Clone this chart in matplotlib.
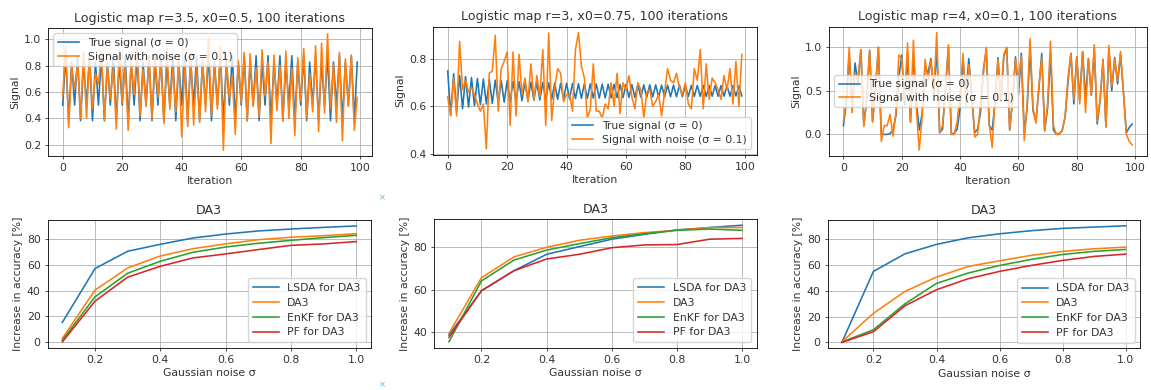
import matplotlib
matplotlib.use("Agg")
import matplotlib.pyplot as plt
from matplotlib.ticker import MultipleLocator

# ---- top row : logistic map signals ----
iterations = list(range(100))

true_r35 = [0.500, 0.875, 0.383, 0.827, 0.501, 0.875, 0.383, 0.827, 0.501, 0.875,
            0.383, 0.827, 0.501, 0.875, 0.383, 0.827, 0.501, 0.875, 0.383, 0.827,
            0.501, 0.875, 0.383, 0.827, 0.501, 0.875, 0.383, 0.827, 0.501, 0.875,
            0.383, 0.827, 0.501, 0.875, 0.383, 0.827, 0.501, 0.875, 0.383, 0.827,
            0.501, 0.875, 0.383, 0.827, 0.501, 0.875, 0.383, 0.827, 0.501, 0.875,
            0.383, 0.827, 0.501, 0.875, 0.383, 0.827, 0.501, 0.875, 0.383, 0.827,
            0.501, 0.875, 0.383, 0.827, 0.501, 0.875, 0.383, 0.827, 0.501, 0.875,
            0.383, 0.827, 0.501, 0.875, 0.383, 0.827, 0.501, 0.875, 0.383, 0.827,
            0.501, 0.875, 0.383, 0.827, 0.501, 0.875, 0.383, 0.827, 0.501, 0.875,
            0.383, 0.827, 0.501, 0.875, 0.383, 0.827, 0.501, 0.875, 0.383, 0.827]
noisy_r35 = [0.57, 0.95, 0.33, 0.80, 0.62, 0.82, 0.40, 0.90, 0.40, 0.88,
             0.47, 0.74, 0.66, 0.90, 0.39, 0.80, 0.55, 0.79, 0.32, 0.92,
             0.52, 0.80, 0.31, 0.84, 0.58, 0.94, 0.42, 0.77, 0.49, 0.86,
             0.40, 0.89, 0.56, 0.82, 0.36, 0.93, 0.47, 0.78, 0.45, 0.86,
             0.26, 0.81, 0.34, 0.90, 0.35, 0.78, 0.37, 0.85, 0.45, 1.01,
             0.42, 0.80, 0.47, 0.95, 0.16, 0.86, 0.55, 0.72, 0.28, 0.84,
             0.52, 0.90, 0.38, 0.89, 0.49, 0.78, 0.41, 0.92, 0.57, 0.83,
             0.21, 0.88, 0.46, 0.80, 0.38, 0.91, 0.40, 0.78, 0.27, 0.86,
             0.53, 0.93, 0.40, 0.74, 0.45, 0.95, 0.30, 0.97, 0.44, 1.04,
             0.48, 0.81, 0.37, 0.90, 0.23, 0.85, 0.49, 0.88, 0.31, 0.56]

true_r3 = [0.750, 0.563, 0.738, 0.580, 0.731, 0.590, 0.726, 0.597, 0.722, 0.603,
           0.718, 0.607, 0.716, 0.610, 0.713, 0.613, 0.711, 0.616, 0.709, 0.618,
           0.708, 0.620, 0.706, 0.622, 0.705, 0.624, 0.704, 0.625, 0.703, 0.626,
           0.702, 0.627, 0.701, 0.629, 0.700, 0.630, 0.699, 0.630, 0.698, 0.631,
           0.698, 0.632, 0.697, 0.633, 0.696, 0.634, 0.696, 0.634, 0.695, 0.635,
           0.695, 0.635, 0.694, 0.636, 0.694, 0.636, 0.693, 0.637, 0.693, 0.637,
           0.692, 0.638, 0.692, 0.638, 0.692, 0.639, 0.691, 0.639, 0.691, 0.640,
           0.691, 0.640, 0.690, 0.640, 0.690, 0.641, 0.690, 0.641, 0.690, 0.641,
           0.689, 0.642, 0.689, 0.642, 0.689, 0.642, 0.689, 0.642, 0.688, 0.643,
           0.688, 0.643, 0.688, 0.643, 0.688, 0.643, 0.688, 0.644, 0.687, 0.644]
noisy_r3 = [0.64, 0.56, 0.72, 0.56, 0.875, 0.67, 0.71, 0.66, 0.68, 0.65,
            0.61, 0.58, 0.61, 0.42, 0.74, 0.75, 0.90, 0.58, 0.76, 0.79,
            0.83, 0.52, 0.83, 0.56, 0.82, 0.65, 0.72, 0.62, 0.78, 0.63,
            0.73, 0.64, 0.84, 0.52, 0.91, 0.54, 0.68, 0.76, 0.74, 0.62,
            0.65, 0.65, 0.58, 0.84, 0.913, 0.77, 0.72, 0.55, 0.59, 0.78,
            0.58, 0.58, 0.55, 0.61, 0.59, 0.70, 0.60, 0.74, 0.57, 0.70,
            0.67, 0.73, 0.64, 0.59, 0.70, 0.67, 0.55, 0.66, 0.67, 0.60,
            0.62, 0.65, 0.56, 0.66, 0.76, 0.71, 0.70, 0.74, 0.68, 0.65,
            0.70, 0.61, 0.59, 0.76, 0.71, 0.84, 0.59, 0.78, 0.63, 0.72,
            0.70, 0.67, 0.63, 0.73, 0.67, 0.76, 0.61, 0.79, 0.60, 0.82]

true_r4 = [0.10, 0.36, 0.92, 0.29, 0.82, 0.59, 0.97, 0.11, 0.40, 0.96,
           0.15, 0.50, 1.00, 0.00, 0.00, 0.00, 0.01, 0.05, 0.21, 0.65,
           0.91, 0.34, 0.90, 0.14, 0.91, 0.38, 0.05, 0.24, 0.78, 0.70,
           0.87, 0.45, 0.99, 0.02, 0.06, 0.55, 1.00, 0.01, 0.01, 0.06,
           0.30, 0.86, 0.48, 0.87, 0.42, 0.02, 0.06, 0.25, 0.74, 0.98,
           0.10, 0.05, 0.37, 0.88, 0.39, 0.90, 0.99, 0.05, 0.40, 0.89,
           0.45, 0.93, 0.02, 0.30, 0.99, 0.27, 0.15, 0.52, 0.93, 0.04,
           0.30, 0.92, 0.05, 0.00, 0.01, 0.04, 0.20, 0.60, 0.93, 0.35,
           0.89, 0.40, 0.95, 0.42, 0.87, 0.45, 0.98, 0.12, 0.38, 0.86,
           0.09, 0.98, 0.50, 0.88, 0.58, 0.92, 0.48, 0.02, 0.08, 0.12]
noisy_r4 = [0.15, 0.40, 1.00, 0.25, 0.70, 0.65, 0.97, 0.09, 0.42, 0.97,
            0.14, 0.55, 1.00, -0.08, 0.10, 0.10, 0.23, -0.02, 0.25, 0.91,
            0.87, 0.40, 1.05, 0.14, 1.08, 0.30, -0.18, 0.20, 0.86, 0.62,
            0.85, 0.50, 1.17, 0.02, 0.10, 0.50, 1.03, 0.00, 0.00, 0.15,
            0.45, 0.93, 0.32, 0.80, 0.50, -0.03, 0.00, 0.35, 0.70, 1.00,
            0.12, -0.15, 0.42, 0.86, 0.40, 0.92, 1.00, 0.05, 0.38, 0.86,
            0.60, 0.90, -0.07, 0.35, 1.10, 0.30, 0.13, 0.55, 0.88, 0.05,
            0.35, 1.07, 0.10, 0.00, 0.00, 0.05, 0.20, 0.65, 0.93, 0.40,
            0.89, 0.35, 0.95, 0.25, 0.87, 0.45, 1.03, 0.15, 0.40, 0.86,
            0.08, 1.02, 0.55, 0.86, 0.62, 0.95, 0.48, 0.00, -0.08, -0.12]

# ---- bottom row : increase in accuracy vs noise ----
sigma = [0.1, 0.2, 0.3, 0.4, 0.5, 0.6, 0.7, 0.8, 0.9, 1.0]

lsda_1 = [15.3, 57.2, 70.7, 76.1, 81.0, 84.1, 86.5, 88.0, 89.3, 90.4]
da3_1 = [2.8, 40.4, 57.7, 67.0, 72.7, 76.4, 79.7, 81.6, 82.8, 84.4]
enkf_1 = [1.3, 35.2, 53.6, 62.9, 69.9, 74.0, 76.9, 79.2, 81.3, 83.1]
pf_1 = [0.1, 31.8, 50.5, 59.0, 65.5, 68.6, 72.0, 75.3, 76.4, 78.2]

lsda_2 = [38.7, 59.5, 69.0, 76.7, 80.3, 83.8, 86.1, 88.2, 89.3, 90.4]
da3_2 = [39.5, 65.7, 75.5, 80.0, 83.3, 85.3, 86.9, 88.0, 89.3, 89.3]
enkf_2 = [35.5, 64.2, 74.0, 78.7, 81.7, 84.5, 86.4, 88.0, 88.6, 88.0]
pf_2 = [37.6, 59.6, 69.0, 74.5, 76.7, 79.8, 81.1, 81.3, 83.8, 84.2]

lsda_3 = [0.0, 55.0, 68.6, 75.9, 81.0, 84.1, 86.5, 88.3, 89.3, 90.3]
da3_3 = [0.5, 22.5, 39.5, 50.6, 58.8, 63.2, 67.4, 70.5, 72.5, 73.8]
enkf_3 = [0.3, 9.8, 29.9, 45.7, 53.7, 59.6, 64.3, 68.1, 70.5, 72.0]
pf_3 = [0.0, 8.3, 28.4, 40.8, 49.3, 55.0, 59.6, 63.5, 66.6, 68.4]

top_titles = ["Logistic map r=3.5, x0=0.5, 100 iterations",
              "Logistic map r=3, x0=0.75, 100 iterations",
              "Logistic map r=4, x0=0.1, 100 iterations"]
legend_locs = ["upper left", "lower right", "center left"]
top_steps = [0.2, 0.2, 0.5]

fs = 7.8
plt.rcParams.update({
    "font.size": fs,
    "axes.titlesize": 9.1,
    "axes.labelsize": fs,
    "xtick.labelsize": fs,
    "ytick.labelsize": fs,
    "legend.fontsize": fs,
    "lines.linewidth": 1.15,
    "axes.linewidth": 0.6,
    "grid.linewidth": 0.6,
    "xtick.major.size": 2.5,
    "ytick.major.size": 2.5,
    "xtick.major.width": 0.6,
    "ytick.major.width": 0.6,
    "xtick.major.pad": 2.5,
    "ytick.major.pad": 2.5,
    "axes.titlepad": 4.5,
    "axes.labelpad": 2.5,
    "text.color": "#333333",
    "axes.labelcolor": "#333333",
    "xtick.color": "#333333",
    "ytick.color": "#333333",
})

fig = plt.figure(figsize=(11.51, 3.9), dpi=100)

top_boxes = [[0.0417, 0.600, 0.2815, 0.328],
             [0.3762, 0.603, 0.2811, 0.329],
             [0.7202, 0.600, 0.2760, 0.332]]
bot_boxes = [[0.0414, 0.1085, 0.2809, 0.327],
             [0.3773, 0.1085, 0.2801, 0.329],
             [0.7191, 0.1070, 0.2713, 0.329]]

signals = [(true_r35, noisy_r35), (true_r3, noisy_r3), (true_r4, noisy_r4)]
for box, (clean, noisy), title, loc, step in zip(top_boxes, signals, top_titles,
                                                  legend_locs, top_steps):
    ax = fig.add_axes(box)
    ax.plot(iterations, clean, label="True signal (σ = 0)")
    ax.plot(iterations, noisy, label="Signal with noise (σ = 0.1)")
    ax.set_title(title)
    ax.set_xlabel("Iteration")
    ax.set_ylabel("Signal")
    ax.yaxis.set_major_locator(MultipleLocator(step))
    ax.grid(True)
    ax.legend(loc=loc, handlelength=2.0, borderpad=0.4, labelspacing=0.35)

results = [(lsda_1, da3_1, enkf_1, pf_1),
           (lsda_2, da3_2, enkf_2, pf_2),
           (lsda_3, da3_3, enkf_3, pf_3)]
names = ["LSDA for DA3", "DA3", "EnKF for DA3", "PF for DA3"]
for box, res in zip(bot_boxes, results):
    ax = fig.add_axes(box)
    for vals, name in zip(res, names):
        ax.plot(sigma, vals, label=name)
    ax.set_title("DA3")
    ax.set_xlabel("Gaussian noise σ")
    ax.set_ylabel("Increase in accuracy [%]")
    ax.yaxis.set_major_locator(MultipleLocator(20))
    ax.grid(True)
    ax.legend(loc="lower right", handlelength=2.4, borderpad=0.45, labelspacing=0.45)

# small selection handles left in the screenshot
fig.text(382 / 1151, 1 - 198 / 390, "×", color="#4db8e8", fontsize=6, ha="center", va="center")
fig.text(382 / 1151, 1 - 385 / 390, "×", color="#4db8e8", fontsize=6, ha="center", va="center")

fig.savefig("out.png", dpi=100)
